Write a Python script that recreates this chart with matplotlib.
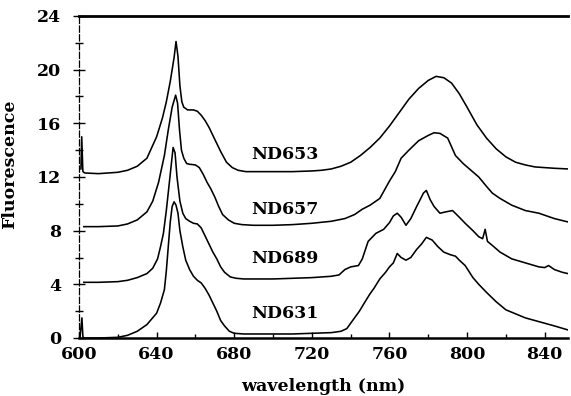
import matplotlib
matplotlib.use("Agg")
import matplotlib.pyplot as plt
from matplotlib.ticker import MultipleLocator

# ---- data ----
nd653_x = [601.0, 601.4, 602.0, 603, 610, 620, 625, 630, 635, 640, 643, 645, 647, 649, 650, 651, 652, 653,
           654, 656, 659, 661, 663, 665, 667, 669, 671, 673, 676, 679, 682, 686, 690, 700, 710, 720, 725,
           730, 735, 740, 745, 750, 755, 760, 765, 770, 775, 780, 784, 788, 792, 796, 800, 805, 810, 815,
           820, 825, 830, 835, 840, 845, 852]
nd653_y = [12.6, 15.0, 12.4, 12.3, 12.25, 12.35, 12.5, 12.8, 13.4, 15.0, 16.4, 17.6, 19.1, 20.9, 22.1, 21.0,
           18.8, 17.6, 17.2, 17.0, 17.0, 16.9, 16.6, 16.2, 15.7, 15.1, 14.5, 13.9, 13.1, 12.7, 12.5, 12.4,
           12.4, 12.4, 12.4, 12.45, 12.5, 12.6, 12.8, 13.1, 13.6, 14.2, 14.9, 15.8, 16.8, 17.8, 18.6, 19.2,
           19.5, 19.4, 19.0, 18.2, 17.2, 15.9, 14.9, 14.1, 13.5, 13.1, 12.9, 12.75, 12.7, 12.65, 12.6]

nd657_x = [602.5, 610, 620, 625, 630, 635, 638, 641, 644, 646, 648, 649.8, 650.8, 651.8, 652.8, 654, 655.5,
           657, 660, 662, 664, 666, 668, 670, 672, 674, 677, 680, 684, 690, 700, 710, 720, 730, 737, 742,
           746, 750, 755, 760, 763, 766, 770, 775, 780, 783, 786, 790, 794, 798, 802, 806, 810, 813, 817,
           823, 830, 837, 845, 852]
nd657_y = [8.3, 8.3, 8.35, 8.5, 8.8, 9.4, 10.2, 11.6, 13.6, 15.5, 17.2, 18.1, 17.5, 15.5, 14.0, 13.4, 13.0,
           12.95, 12.9, 12.7, 12.2, 11.6, 11.1, 10.5, 9.8, 9.2, 8.8, 8.55, 8.45, 8.4, 8.4, 8.45, 8.55, 8.7,
           8.9, 9.2, 9.6, 9.9, 10.4, 11.7, 12.4, 13.4, 14.0, 14.7, 15.1, 15.3, 15.25, 14.9, 13.6, 13.0,
           12.5, 12.0, 11.3, 10.8, 10.4, 9.9, 9.5, 9.3, 8.9, 8.65]

nd689_x = [602.5, 610, 620, 625, 630, 635, 638, 640.5, 642, 643.5, 645, 646.5, 648.5, 649.5, 650.5, 652,
           653.5, 655, 657, 659, 661, 663, 665, 667, 669, 671, 673, 675, 678, 681, 685, 690, 700, 710, 720,
           730, 734, 737, 740, 744, 746, 749, 753, 757, 760, 762, 764, 766, 768.5, 771, 774, 777.5, 779,
           781, 783, 786, 789, 792.5, 796, 799, 803, 806, 808, 809.3, 810.5, 813, 817, 823, 830, 837, 840,
           842, 845, 849, 852]
nd689_y = [4.15, 4.15, 4.2, 4.3, 4.5, 4.8, 5.2, 5.9, 6.8, 7.8, 9.5, 11.5, 14.2, 13.8, 12.0, 10.2, 9.3, 8.9,
           8.7, 8.55, 8.5, 8.2, 7.6, 7.0, 6.4, 5.9, 5.3, 4.9, 4.55, 4.45, 4.4, 4.4, 4.4, 4.45, 4.5, 4.6,
           4.7, 5.1, 5.3, 5.4, 5.9, 7.2, 7.8, 8.1, 8.6, 9.1, 9.3, 9.0, 8.4, 8.9, 9.8, 10.8, 11.0, 10.3,
           9.8, 9.3, 9.4, 9.5, 9.0, 8.55, 8.0, 7.55, 7.4, 8.1, 7.2, 6.9, 6.4, 5.9, 5.6, 5.3, 5.25, 5.4,
           5.1, 4.9, 4.8]

nd631_x = [600.5, 601.5, 602.0, 602.5, 610, 620, 625, 630, 635, 640, 642, 644, 645, 646, 647, 648, 649,
           650, 651, 652, 653.5, 655, 657, 659, 661, 663, 665, 667, 669, 671, 673, 675, 677.5, 680, 685,
           690, 700, 710, 720, 730, 735, 738, 741, 744.5, 747, 750, 752, 755, 758, 760, 762, 764, 766,
           768.5, 771, 774, 776.5, 779, 782, 785, 788, 791.5, 794, 796, 799, 803, 806, 810, 815, 820, 825,
           830, 835, 840, 845, 852]
nd631_y = [0.0, 1.5, 0.1, 0.0, 0.0, 0.05, 0.2, 0.5, 1.0, 1.85, 2.6, 3.6, 5.0, 6.8, 8.6, 9.8, 10.15, 9.9,
           9.3, 8.0, 6.8, 5.8, 5.1, 4.6, 4.3, 4.1, 3.7, 3.2, 2.6, 2.0, 1.3, 0.9, 0.5, 0.35, 0.3, 0.3, 0.3,
           0.3, 0.35, 0.4, 0.5, 0.7, 1.3, 2.0, 2.6, 3.3, 3.7, 4.4, 4.9, 5.3, 5.6, 6.3, 6.0, 5.8, 6.0, 6.6,
           7.0, 7.5, 7.3, 6.8, 6.4, 6.2, 6.1, 5.8, 5.4, 4.5, 4.0, 3.4, 2.7, 2.1, 1.8, 1.5, 1.3, 1.1, 0.9, 0.6]

labels = ["ND653", "ND657", "ND689", "ND631"]
label_x = [689, 689, 689, 689]
label_y = [13.7, 9.55, 5.95, 1.85]

series = [(nd653_x, nd653_y), (nd657_x, nd657_y), (nd689_x, nd689_y), (nd631_x, nd631_y)]

# ---- figure ----
fig = plt.figure(figsize=(5.71, 3.96), dpi=100)
ax = fig.add_axes([79 / 571, 1 - 338 / 396, (568 - 79) / 571, (338 - 16) / 396])

for xs, ys in series:
    ax.plot(xs, ys, color="black", lw=1.15, solid_joinstyle="round")

fnt = dict(family="DejaVu Serif", weight="bold", size=12.5)
for lab, lx, ly in zip(labels, label_x, label_y):
    ax.text(lx, ly, lab, ha="left", va="center", **fnt)

ax.set_xlim(600, 852)
ax.set_ylim(0, 24)
ax.xaxis.set_major_locator(MultipleLocator(40))
ax.xaxis.set_minor_locator(MultipleLocator(20))
ax.yaxis.set_major_locator(MultipleLocator(4))
ax.yaxis.set_minor_locator(MultipleLocator(2))

ax.spines["right"].set_visible(False)
ax.spines["top"].set_linewidth(2.0)
ax.spines["bottom"].set_linewidth(1.8)
ax.spines["left"].set_linewidth(0.9)
ax.spines["left"].set_linestyle((0, (5, 2)))

ax.tick_params(axis="y", which="major", direction="inout", length=8, width=1.0, pad=9)
ax.tick_params(axis="y", which="minor", direction="inout", length=6, width=1.0)
ax.tick_params(axis="x", which="major", direction="in", length=4, width=1.0, pad=6)
ax.tick_params(axis="x", which="minor", direction="in", length=3, width=1.0)

for lbl in ax.get_xticklabels() + ax.get_yticklabels():
    lbl.set_fontfamily("DejaVu Serif")
    lbl.set_fontweight("bold")
    lbl.set_fontsize(12.5)

ax.set_xlabel("wavelength (nm)", **fnt)
ax.set_ylabel("Fluorescence", **fnt)
ax.xaxis.set_label_coords(0.5, -0.125)
ax.yaxis.set_label_coords(-0.125, 0.54)

fig.savefig("out.png", dpi=100)
